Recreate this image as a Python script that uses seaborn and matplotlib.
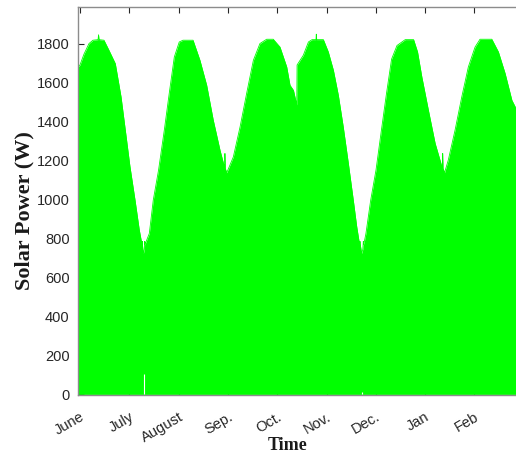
import matplotlib
matplotlib.use("Agg")
import matplotlib.pyplot as plt
import seaborn as sns
import pandas as pd

# ---- data ----
month_labels = ["June", "July", "August", "Sep.", "Oct.", "Nov.", "Dec.", "Jan", "Feb"]
month_days = [0, 30, 60, 90, 120, 150, 180, 210, 240]

# upper envelope of the daily solar power (day index, W)
env_day = [-1.2, 0.0, 2.4, 5.5, 7.9, 11.0, 11.3, 11.6, 14.6, 17.6, 21.5, 25.0, 27.6,
           30.4, 33.5, 36.1, 37.7, 37.9, 38.1, 38.6, 39.2, 39.4, 39.6, 42.2, 44.6,
           47.8, 51.3, 54.3, 57.4, 60.4, 62.7, 68.8, 73.0, 77.1, 81.1, 85.2, 88.1,
           88.2, 88.4, 89.3, 93.3, 97.4, 101.4, 105.5, 109.5, 113.6, 117.6, 121.7,
           125.8, 127.8, 129.9, 131.9, 132.1, 135.9, 139.0, 141.2, 143.6, 143.8,
           144.0, 148.1, 151.1, 154.2, 157.2, 160.2, 163.3, 166.3, 168.4, 170.1,
           170.4, 170.7, 171.4, 172.1, 172.4, 172.7, 174.0, 176.9, 180.1, 183.4,
           186.5, 189.6, 192.9, 195.9, 197.9, 203.0, 205.4, 208.0, 212.0, 216.1,
           220.5, 220.7, 220.9, 221.8, 224.1, 228.2, 232.3, 236.3, 240.4, 243.4,
           250.6, 254.6, 258.7, 262.8, 265.3]
env_val = [1680, 1690, 1745, 1800, 1817, 1820, 1845, 1820, 1817, 1766, 1697, 1526, 1355,
           1170, 997, 843, 770, 785, 760, 723, 745, 785, 770, 826, 997,
           1150, 1355, 1544, 1731, 1808, 1817, 1817, 1714, 1586, 1407, 1253, 1160,
           1236, 1160, 1137, 1218, 1372, 1544, 1714, 1800, 1822, 1822, 1782,
           1680, 1586, 1560, 1485, 1690, 1740, 1808, 1820, 1820, 1848,
           1820, 1820, 1757, 1663, 1535, 1372, 1185, 997, 860, 770,
           785, 760, 723, 745, 785, 770, 826, 997, 1150, 1355,
           1544, 1720, 1790, 1808, 1820, 1820, 1757, 1629, 1458, 1288,
           1160, 1236, 1160, 1137, 1202, 1355, 1526, 1680, 1782, 1822,
           1822, 1757, 1646, 1509, 1467]

# days where the trace does not reach zero (white gaps at bottom)
gap_days = [39.1, 171.5]
gap_tops = [105, 12]

y_ticks = [0, 200, 400, 600, 800, 1000, 1200, 1400, 1600, 1800]

# ---- plot ----
sns.set_theme(style="ticks")
plt.rcParams["font.family"] = ["Liberation Sans", "DejaVu Sans"]

fig = plt.figure(figsize=(5.16, 4.53), dpi=100)
W, H = 516, 453
ax = fig.add_axes([78 / W, 1 - 395 / H, (516 - 78) / W, (395 - 6.5) / H])

df = pd.DataFrame({"day": env_day, "power": env_val})
green = "#00ff00"
ax.fill_between(df["day"], 0, df["power"], color=green, linewidth=0, zorder=2)
sns.lineplot(data=df, x="day", y="power", ax=ax, color=green, linewidth=0.6,
             estimator=None, sort=False, zorder=2)
ax.vlines(gap_days, 0, gap_tops, color="white", linewidth=0.8, zorder=3)

ax.set_xlim(-1.2, 265.3)
ax.set_ylim(-3, 1990)

ax.set_xticks(month_days)
ax.set_xticklabels(month_labels, rotation=30, ha="right", va="top",
                   rotation_mode="anchor", fontsize=10.5, color="#262626")
ax.set_yticks(y_ticks)
ax.set_yticklabels([str(v) for v in y_ticks], fontsize=10.5, color="#262626")

ax.tick_params(axis="both", direction="in", length=4, width=0.8, color="#262626",
               top=True, right=False)
ax.tick_params(axis="y", pad=6)
ax.tick_params(axis="x", pad=10.5)

for side in ["left", "top", "bottom"]:
    ax.spines[side].set_color("#8c8c8c")
    ax.spines[side].set_linewidth(1.0)
ax.spines["right"].set_visible(False)

ax.set_xlabel("Time", fontsize=13, fontweight="bold", family="Liberation Serif",
              color="#1a1a1a")
ax.set_ylabel("Solar Power (W)", fontsize=16, fontweight="bold",
              family="Liberation Serif", color="#1a1a1a")
ax.xaxis.set_label_coords(0.479, -0.108)
ax.xaxis.label.set_va("top")
ax.yaxis.set_label_coords(-0.123, 0.476)
ax.yaxis.label.set_va("center")

fig.savefig("out.png", dpi=100)
